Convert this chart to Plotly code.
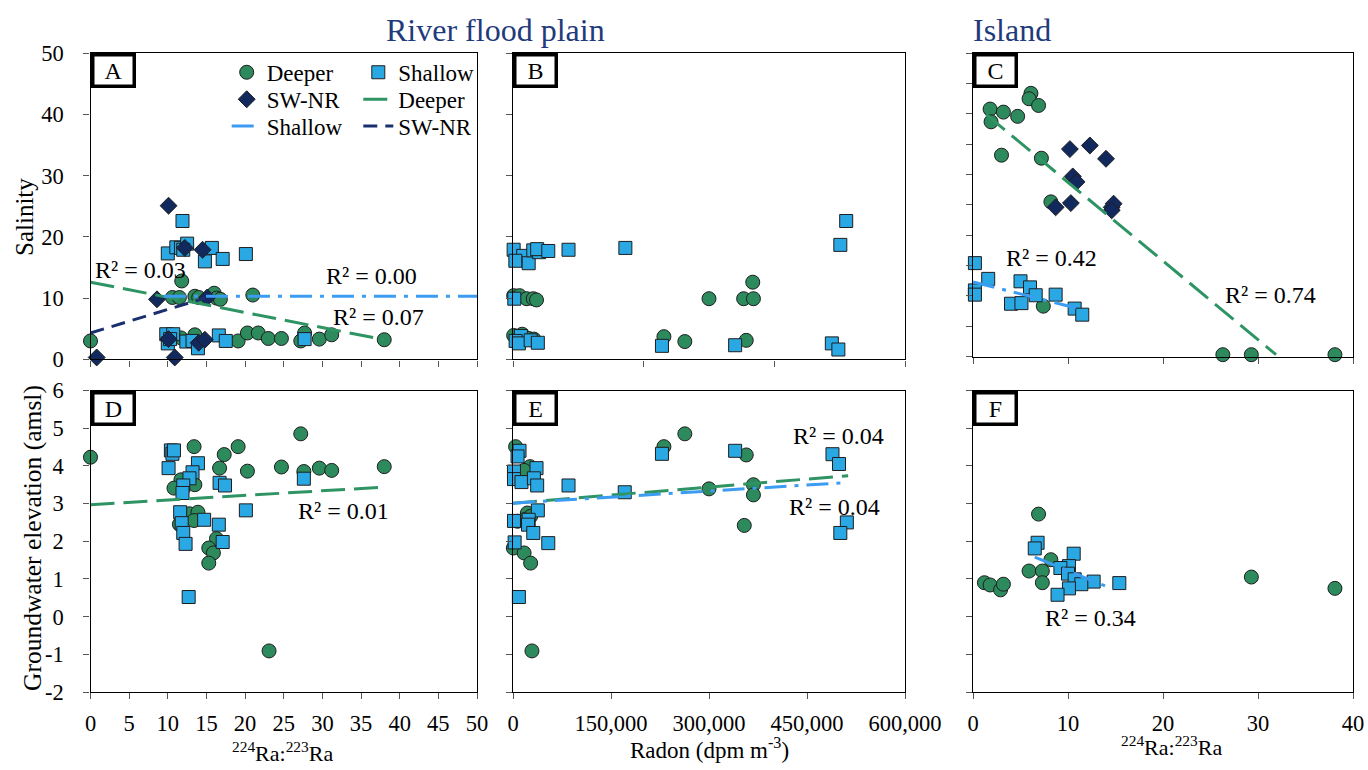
import plotly.graph_objects as go

FONT = "Liberation Serif, serif"

# ---------------- data ----------------
# Panel A - river flood plain: salinity vs 224Ra:223Ra
a_deep_ratio = [0.0, 10.6, 11.5, 11.8, 13.5, 14.0, 16.0, 16.3, 16.8, 21.0,
                10.4, 11.7, 13.5, 19.1, 20.3, 21.7, 23.0, 24.7, 27.2, 27.7, 29.6, 31.2, 38.0]
a_deep_sal = [3.0, 10.1, 10.1, 12.8, 10.3, 10.1, 10.8, 10.0, 9.8, 10.5,
              3.8, 3.5, 4.0, 3.0, 4.3, 4.3, 3.4, 3.4, 3.0, 4.3, 3.3, 4.0, 3.2]
a_shal_ratio = [11.9, 10.0, 11.1, 11.7, 12.5, 12.0, 15.7, 14.8, 17.1, 20.1,
                9.8, 10.7, 10.0, 10.3, 12.4, 13.2, 13.9, 16.6, 17.5, 27.7]
a_shal_sal = [22.6, 17.3, 18.3, 18.2, 18.9, 17.9, 18.2, 16.0, 16.4, 17.2,
              4.1, 4.1, 2.6, 3.3, 2.9, 3.0, 1.8, 3.9, 3.0, 3.3]
a_swnr_ratio = [10.1, 12.2, 14.5, 8.6, 15.1, 10.1, 14.0, 14.8, 0.8, 10.9]
a_swnr_sal = [25.1, 18.2, 17.9, 9.8, 10.1, 3.3, 2.7, 3.2, 0.3, 0.3]
a_fit_deep_x, a_fit_deep_y = [0, 38], [12.6, 3.2]
a_fit_shal_x, a_fit_shal_y = [9.5, 50], [10.3, 10.3]
a_fit_swnr_x, a_fit_swnr_y = [0, 14.8], [4.3, 10.0]

# Panel B - river flood plain: salinity vs radon
b_deep_radon = [367000, 300000, 353000, 368000, 231000, 263000, 357000,
                1000, 10000, 21000, 31000, 36000, 1000, 14000, 24000, 32000]
b_deep_sal = [12.6, 9.9, 9.9, 9.9, 3.7, 2.9, 3.1,
              10.4, 10.4, 9.9, 9.9, 9.7, 3.9, 4.1, 3.4, 3.3]
b_shal_radon = [510000, 501000, 172000, 85000, 1000, 15600, 3600, 24000, 31000, 40000, 37000,
                54000, 2000, 12000, 4000, 9000, 27000, 38000, 228000, 340000, 488000, 498000]
b_shal_sal = [22.6, 18.7, 18.2, 17.9, 17.9, 16.9, 16.1, 15.7, 17.8, 17.5, 18.0,
              17.7, 9.9, 3.8, 3.0, 2.6, 3.1, 2.7, 2.2, 2.3, 2.6, 1.6]

# Panel C - island: salinity vs 224Ra:223Ra
c_deep_ratio = [6.1, 5.9, 6.9, 1.8, 3.2, 4.7, 1.9, 3.0, 7.2, 8.2, 7.4, 26.3, 29.3, 38.1]
c_deep_sal = [43.4, 42.5, 41.4, 40.8, 40.3, 39.6, 38.7, 33.2, 32.7, 25.5, 8.3, 0.3, 0.3, 0.3]
c_shal_ratio = [0.2, 1.6, 0.2, 0.2, 5.0, 6.0, 6.6, 4.0, 5.1, 8.7, 10.7, 11.5]
c_shal_sal = [15.4, 12.8, 10.9, 10.2, 12.4, 11.4, 10.1, 8.7, 8.8, 10.2, 7.9, 6.9]
c_swnr_ratio = [10.2, 12.3, 14.0, 10.5, 10.9, 8.7, 10.3, 14.6, 14.8, 14.6]
c_swnr_sal = [34.2, 34.8, 32.6, 29.7, 28.8, 24.6, 25.3, 24.6, 25.2, 24.1]
c_fit_deep_x, c_fit_deep_y = [1.4, 31.9], [39.9, 0.3]
c_fit_shal_x, c_fit_shal_y = [0, 11.6], [12.3, 7.7]

# Panel D - river flood plain: groundwater elevation vs 224Ra:223Ra
d_deep_ratio = [0.0, 13.4, 19.1, 17.3, 16.7, 20.3, 24.7, 27.2, 27.6, 29.6, 31.2, 38.0,
                11.7, 10.8, 13.5, 12.8, 13.9, 13.4, 11.5, 16.3, 15.3, 15.9, 15.3, 23.1]
d_deep_gw = [4.23, 4.51, 4.51, 4.30, 3.94, 3.86, 3.97, 4.85, 3.85, 3.94, 3.88, 3.98,
             3.63, 3.41, 3.50, 2.73, 2.77, 2.55, 2.45, 2.07, 1.82, 1.69, 1.42, -0.91]
d_shal_ratio = [10.4, 10.6, 10.8, 10.1, 13.9, 13.2, 12.8, 12.0, 11.9, 16.7, 17.4, 27.6,
                20.1, 11.6, 11.8, 14.7, 16.6, 12.0, 12.3, 17.1, 12.7]
d_shal_gw = [4.41, 4.32, 4.41, 3.94, 4.07, 3.83, 3.67, 3.48, 3.28, 3.55, 3.48, 3.66,
             2.82, 2.77, 2.48, 2.57, 2.44, 2.22, 1.93, 1.98, 0.52]
d_fit_deep_x, d_fit_deep_y = [0, 38.2], [2.97, 3.44]

# Panel E - river flood plain: groundwater elevation vs radon
e_deep_radon = [4000, 231000, 263000, 357000, 26000, 17000, 300000, 368000, 368000, 354000,
                22000, 27000, 17000, 7000, 500, 17000, 27000, 29000]
e_deep_gw = [4.51, 4.51, 4.85, 4.29, 3.98, 3.88, 3.39, 3.50, 3.23, 2.42,
             2.75, 2.66, 2.57, 2.53, 1.82, 1.69, 1.42, -0.91]
e_shal_radon = [10000, 7000, 340000, 228000, 489000, 499000, 1500, 1500, 13000, 36000, 32000, 37000,
                85000, 171000, 38000, 24000, 1500, 23000, 31000, 54000, 2500, 9000, 511000, 501000]
e_shal_gw = [4.40, 4.25, 4.40, 4.32, 4.31, 4.05, 3.85, 3.65, 3.57, 3.94, 3.67, 3.48,
             3.48, 3.30, 2.82, 2.57, 2.54, 2.44, 2.22, 1.95, 1.97, 0.52, 2.50, 2.22]
e_fit_deep_x, e_fit_deep_y = [0, 513000], [3.01, 3.74]
e_fit_shal_x, e_fit_shal_y = [0, 513000], [3.01, 3.56]

# Panel F - island: groundwater elevation vs 224Ra:223Ra
f_deep_ratio = [6.9, 8.2, 5.9, 7.3, 7.3, 1.2, 1.8, 2.9, 3.2, 29.3, 38.1]
f_deep_gw = [2.72, 1.51, 1.21, 1.21, 0.90, 0.90, 0.84, 0.71, 0.86, 1.05, 0.75]
f_shal_ratio = [6.8, 6.5, 10.6, 10.1, 9.2, 10.0, 10.7, 12.7, 11.4, 15.4, 10.1, 8.9]
f_shal_gw = [1.96, 1.81, 1.67, 1.34, 1.29, 1.14, 0.99, 0.93, 0.86, 0.89, 0.75, 0.58]
f_fit_shal_x, f_fit_shal_y = [6.5, 14.7], [1.58, 0.73]

# tick labels
sal_ticks = [0, 10, 20, 30, 40, 50]
gw_ticks = [-2, -1, 0, 1, 2, 3, 4, 5, 6]
gw_tick_text = ["-2", "-1", "0", "1", "2", "3", "4", "5", "6"]

# ---------------- styles ----------------
GREEN = "#2C8A5C"
BLUE = "#29A8E4"
NAVY = "#12295E"
GREEN_L = "#2F9463"
BLUE_L = "#3C9CF2"
NAVY_L = "#1A2F6E"
EDGE = "#1E1E1E"

MK = {
    "deep": dict(symbol="circle", size=14, color=GREEN, line=dict(color=EDGE, width=1)),
    "shal": dict(symbol="square", size=13, color=BLUE, line=dict(color=EDGE, width=1)),
    "swnr": dict(symbol="diamond", size=13, color=NAVY, line=dict(color=EDGE, width=1)),
}
LN = {
    "deep": dict(color=GREEN_L, width=3, dash="24px,9px"),
    "shal": dict(color=BLUE_L, width=3, dash="22px,8px,4px,8px"),
    "swnr": dict(color=NAVY_L, width=3, dash="14px,8px"),
}

fig = go.Figure()


def pts(ax, x, y, kind, name=None, legend=None):
    fig.add_trace(go.Scatter(
        x=x, y=y, mode="markers", marker=MK[kind], cliponaxis=False,
        xaxis="x" + ax, yaxis="y" + ax,
        name=name or kind, showlegend=legend is not None,
        legend=legend or "legend", hoverinfo="skip"))


def fit(ax, x, y, kind, name=None, legend=None):
    fig.add_trace(go.Scatter(
        x=x, y=y, mode="lines", line=LN[kind], cliponaxis=True,
        xaxis="x" + ax, yaxis="y" + ax,
        name=name or kind, showlegend=legend is not None,
        legend=legend or "legend", hoverinfo="skip"))


# Panel A (axis 1) - traces ordered for legends
pts("", a_deep_ratio, a_deep_sal, "deep", "Deeper", "legend")
pts("", a_shal_ratio, a_shal_sal, "shal", "Shallow", "legend")
pts("", a_swnr_ratio, a_swnr_sal, "swnr", "SW-NR", "legend2")
fit("", a_fit_deep_x, a_fit_deep_y, "deep", "Deeper", "legend2")
fit("", a_fit_shal_x, a_fit_shal_y, "shal", "Shallow", "legend3")
fit("", a_fit_swnr_x, a_fit_swnr_y, "swnr", "SW-NR", "legend3")

# Panel B
pts("2", b_deep_radon, b_deep_sal, "deep")
pts("2", b_shal_radon, b_shal_sal, "shal")

# Panel C
pts("3", c_deep_ratio, c_deep_sal, "deep")
pts("3", c_shal_ratio, c_shal_sal, "shal")
pts("3", c_swnr_ratio, c_swnr_sal, "swnr")
fit("3", c_fit_deep_x, c_fit_deep_y, "deep")
fit("3", c_fit_shal_x, c_fit_shal_y, "shal")

# Panel D
pts("4", d_deep_ratio, d_deep_gw, "deep")
pts("4", d_shal_ratio, d_shal_gw, "shal")
fit("4", d_fit_deep_x, d_fit_deep_y, "deep")

# Panel E
pts("5", e_deep_radon, e_deep_gw, "deep")
pts("5", e_shal_radon, e_shal_gw, "shal")
fit("5", e_fit_deep_x, e_fit_deep_y, "deep")
fit("5", e_fit_shal_x, e_fit_shal_y, "shal")

# Panel F
pts("6", f_deep_ratio, f_deep_gw, "deep")
pts("6", f_shal_ratio, f_shal_gw, "shal")
fit("6", f_fit_shal_x, f_fit_shal_y, "shal")

# ---------------- layout ----------------
W, H = 1368, 770


def px_x(a, b):
    return [a / W, b / W]


def px_y(top, bottom):
    return [1 - bottom / H, 1 - top / H]


TICKFONT = dict(family=FONT, size=22.5, color="black")


def axis(dom, rng, dtick, labels, anchor, standoff, **kw):
    d = dict(domain=dom, range=rng, dtick=dtick, tick0=0, showticklabels=labels,
             ticks="outside", ticklen=6, tickwidth=1.2, tickcolor="#555555",
             showline=True, linecolor="black", linewidth=1.4, mirror=True,
             showgrid=False, zeroline=False, tickfont=TICKFONT, fixedrange=True,
             anchor=anchor, ticklabelstandoff=standoff, automargin=False)
    d.update(kw)
    return d


top_y = px_y(53.3, 359.3)
top_y_c = px_y(53.3, 356.5)
bot_y = px_y(390.5, 692.0)
colA = px_x(90.5, 477.0)
colB = px_x(513.0, 905.0)
colC = px_x(973.0, 1353.0)

fig.update_layout(
    template="none",
    width=W, height=H, margin=dict(l=0, r=0, t=0, b=0, pad=0, autoexpand=False),
    paper_bgcolor="white", plot_bgcolor="white", hovermode=False,
    font=dict(family=FONT, size=22, color="black"),
    xaxis=axis(colA, [0, 50], 5, False, "y", 4),
    yaxis=axis(top_y, [0, 50], None, True, "x", 15, tickmode="array", tickvals=sal_ticks),
    xaxis2=axis(colB, [0, 600000], 200000, False, "y2", 4),
    yaxis2=axis(top_y, [0, 50], 10, False, "x2", 12),
    xaxis3=axis(colC, [0, 40], 10, False, "y3", 4),
    yaxis3=axis(top_y_c, [0, 50], 5, False, "x3", 12),
    xaxis4=axis(colA, [0, 50], 5, True, "y4", 5),
    yaxis4=axis(bot_y, [-2, 6], None, True, "x4", 15, tickmode="array",
                tickvals=gw_ticks, ticktext=gw_tick_text),
    xaxis5=axis(colB, [0, 600000], 150000, True, "y5", 5, tickformat=","),
    yaxis5=axis(bot_y, [-2, 6], 1, False, "x5", 12),
    xaxis6=axis(colC, [0, 40], 10, True, "y6", 5),
    yaxis6=axis(bot_y, [-2, 6], 1, False, "x6", 12),
)

LEG = dict(orientation="h", xref="paper", yref="paper", xanchor="left", yanchor="middle",
           bgcolor="rgba(0,0,0,0)", borderwidth=0, entrywidth=86.6, entrywidthmode="pixels",
           font=dict(family=FONT, size=23, color="black"), itemclick=False, itemdoubleclick=False)
fig.update_layout(
    legend=dict(LEG, x=226.7 / W, y=1 - 72.3 / H),
    legend2=dict(LEG, x=226.7 / W, y=1 - 99.3 / H),
    legend3=dict(LEG, x=226.7 / W, y=1 - 126.0 / H),
)

ann = []


def text_at(text, x, y, size, color="black", angle=0):
    ann.append(dict(text=text, x=x / W, y=1 - y / H, xref="paper", yref="paper",
                    xanchor="center", yanchor="middle", textangle=angle, showarrow=False,
                    font=dict(family=FONT, size=size, color=color)))


TITLE_COLOR = "#1F3B7C"
text_at("River flood plain", 495, 30, 32, TITLE_COLOR)
text_at("Island", 1012, 30, 32, TITLE_COLOR)
text_at("Salinity", 25, 217, 25, angle=-90)
text_at("Groundwater elevation (amsl)", 32, 538, 25.5, angle=-90)
text_at("<sup>224</sup>Ra:<sup>223</sup>Ra", 282, 752, 22)
text_at("Radon (dpm m<sup>-3</sup>)", 709, 748, 23)
text_at("<sup>224</sup>Ra:<sup>223</sup>Ra", 1171, 746, 22)

# panel letters
for letter, ax in zip("ABCDEF", ["", "2", "3", "4", "5", "6"]):
    ann.append(dict(text=letter, x=0, y=1, xref="x" + ax + " domain", yref="y" + ax + " domain",
                    xanchor="left", yanchor="top", showarrow=False, width=36, height=26,
                    borderpad=1, borderwidth=3.5, bordercolor="black", bgcolor="white",
                    font=dict(family=FONT, size=24, color="black")))

# R^2 labels
RF = dict(family=FONT, size=24, color="black")
for txt, ax, x, y in [
    ("R² = 0.03", "", 6.5, 14.6), ("R² = 0.00", "", 36.3, 13.6), ("R² = 0.07", "", 37.2, 6.9),
    ("R² = 0.42", "3", 8.3, 16.2), ("R² = 0.74", "3", 31.3, 10.2),
    ("R² = 0.01", "4", 32.7, 2.79),
    ("R² = 0.04", "5", 498000, 4.80), ("R² = 0.04", "5", 492000, 2.91),
    ("R² = 0.34", "6", 12.4, -0.04),
]:
    ann.append(dict(text=txt, x=x, y=y, xref="x" + ax, yref="y" + ax, xanchor="center",
                    yanchor="middle", showarrow=False, font=RF))

fig.update_layout(annotations=ann)

fig.write_html("out.html", config={"displayModeBar": False},
               post_script="document.body.style.margin='0px';")
